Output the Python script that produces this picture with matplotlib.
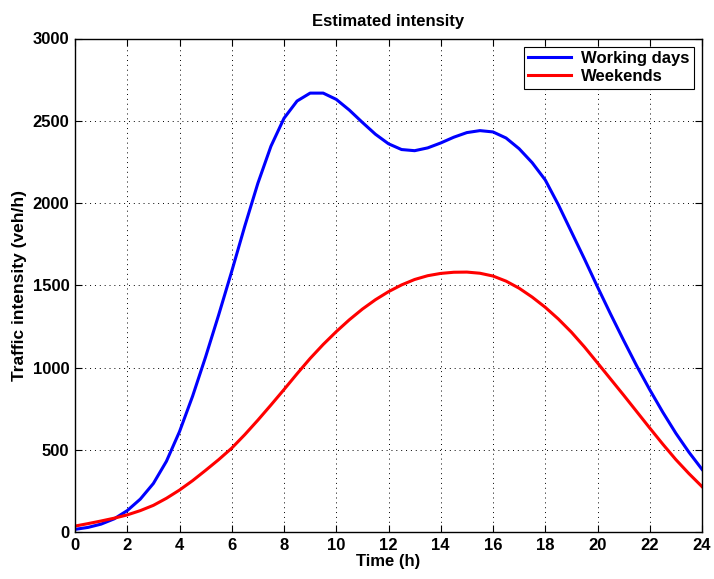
import numpy as np
import matplotlib
matplotlib.use("Agg")
import matplotlib.pyplot as plt

plt.rcParams['font.family'] = ['Liberation Sans', 'DejaVu Sans']
plt.rcParams['font.weight'] = 'bold'

hours = np.arange(0, 24.5, 0.5)
working_days = [16, 28, 48, 80, 130, 200, 295, 430, 610, 825, 1065, 1320, 1585, 1860,
                2120, 2345, 2515, 2620, 2668, 2668, 2630, 2565, 2490, 2418, 2360, 2325,
                2318, 2335, 2365, 2400, 2428, 2440, 2432, 2395, 2330, 2245, 2140, 1990,
                1825, 1660, 1490, 1325, 1165, 1010, 865, 728, 600, 485, 381]
weekends = [36, 51, 67, 84, 104, 130, 162, 205, 255, 312, 375, 440, 510, 592, 680, 772,
            866, 962, 1055, 1140, 1218, 1290, 1355, 1412, 1461, 1502, 1535, 1558, 1572,
            1579, 1580, 1573, 1556, 1525, 1482, 1428, 1366, 1295, 1215, 1125, 1028, 930,
            832, 732, 632, 534, 440, 355, 276]
x_ticks = list(range(0, 25, 2))
y_ticks = list(range(0, 3001, 500))

fig = plt.figure(figsize=(7.14, 5.79), dpi=100)
ax = fig.add_axes([75/714, 1-532/579, 627/714, 493.5/579])

ax.plot(hours, working_days, color='#0000ff', lw=2.2, label='Working days',
        solid_joinstyle='round')
ax.plot(hours, weekends, color='#ff0000', lw=2.2, label='Weekends',
        solid_joinstyle='round')

ax.set_xlim(0, 24)
ax.set_ylim(0, 3000)
ax.set_xticks(x_ticks)
ax.set_yticks(y_ticks)
ax.tick_params(direction='in', top=True, right=True, length=5, width=0.8,
               labelsize=12, pad=4)
for lab in ax.get_xticklabels() + ax.get_yticklabels():
    lab.set_fontweight('bold')
ax.grid(True, color='black', linestyle=(0, (1, 4)), linewidth=0.7)
for s in ax.spines.values():
    s.set_linewidth(1.0)

ax.set_title('Estimated intensity', fontsize=12, fontweight='bold', pad=9)
ax.set_xlabel('Time (h)', fontsize=12, fontweight='bold', labelpad=1)
ax.set_ylabel('Traffic intensity (veh/h)', fontsize=12.5, fontweight='bold', labelpad=4)

leg = ax.legend(loc='upper right', fontsize=12, frameon=True, fancybox=False,
                edgecolor='black', framealpha=1, handlelength=2.6, borderpad=0.25,
                labelspacing=0.2, handletextpad=0.6, borderaxespad=0.5)
leg.get_frame().set_linewidth(0.8)
for t in leg.get_texts():
    t.set_fontweight('bold')

fig.savefig('out.png', dpi=100)
